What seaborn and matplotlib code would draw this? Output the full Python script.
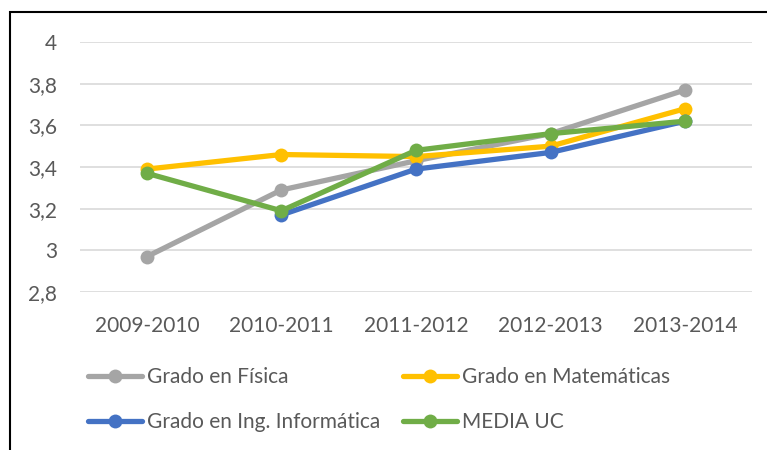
import pandas as pd
import numpy as np
import seaborn as sns
import matplotlib.pyplot as plt
from matplotlib.lines import Line2D
from matplotlib.patches import Rectangle

# data
cursos = ["2009-2010", "2010-2011", "2011-2012", "2012-2013", "2013-2014"]
fisica = [2.97, 3.29, 3.43, 3.56, 3.77]
matematicas = [3.39, 3.46, 3.45, 3.50, 3.68]
informatica = [np.nan, 3.17, 3.39, 3.47, 3.62]
media_uc = [3.37, 3.19, 3.48, 3.56, 3.62]

series = ["Grado en Física", "Grado en Matemáticas",
          "Grado en Ing. Informática", "MEDIA UC"]
colores = ["#A5A5A5", "#FFC000", "#4472C4", "#70AD47"]

df = pd.DataFrame({"Curso": cursos * 4,
                   "Nota": fisica + matematicas + informatica + media_uc,
                   "Serie": [s for s in series for _ in cursos]})
df = df.dropna()

sns.set_style("white")
plt.rcParams["font.family"] = ["Lato", "DejaVu Sans"]
texto = "#595959"

fig = plt.figure(figsize=(7.67, 4.5), dpi=100)
ax = fig.add_axes([0.1037, 0.351, 0.8773, 0.5557])

# one line per series, drawn in order so green sits on top
for s, c in zip(series, colores):
    sns.lineplot(data=df[df["Serie"] == s], x="Curso", y="Nota", color=c,
                 marker="o", markersize=10, markeredgewidth=0, linewidth=3.8,
                 ax=ax, legend=False, sort=False)

ax.set_xlim(-0.5, 4.5)
ax.set_ylim(2.8, 4.0)
ax.set_yticks([2.8, 3.0, 3.2, 3.4, 3.6, 3.8, 4.0])
ax.set_yticklabels(["2,8", "3", "3,2", "3,4", "3,6", "3,8", "4"])
ax.yaxis.grid(True, color="#D9D9D9", linewidth=1.2)
ax.set_axisbelow(True)
for sp in ax.spines.values():
    sp.set_visible(False)
ax.tick_params(axis="both", length=0, labelsize=15, colors=texto)
ax.tick_params(axis="x", pad=17)
ax.tick_params(axis="y", pad=16)
ax.set_xlabel("")
ax.set_ylabel("")

# legend in two rows, filled column-wise
orden = [0, 2, 1, 3]
handles = [Line2D([], [], color=colores[i], linewidth=3.8, marker="o",
                  markersize=10, markeredgewidth=0) for i in orden]
labels = [series[i] for i in orden]
fig.legend(handles, labels, ncol=2, frameon=False, loc="upper left",
           bbox_to_anchor=(88 / 767, 1 - 367 / 450), fontsize=15,
           labelcolor=texto, borderpad=0, borderaxespad=0,
           handlelength=2.6, handletextpad=0.25, columnspacing=1.05,
           labelspacing=1.2)

# outer frame of the chart (partly cut off in the original)
fig.patches.append(Rectangle((10 / 767, -0.1), 1.2, 1 - 12 / 450 + 0.1,
                             transform=fig.transFigure, fill=False,
                             edgecolor="black", linewidth=1.5))

fig.savefig("out.png", dpi=100)
